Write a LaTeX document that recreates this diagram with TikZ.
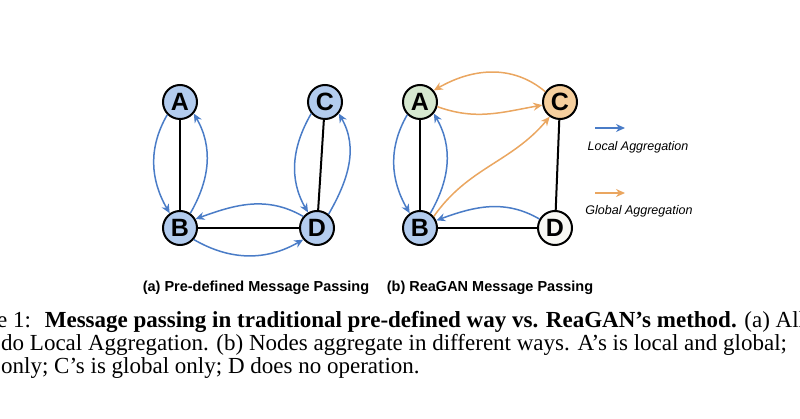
\documentclass[tikz,border=0pt]{standalone}
\usepackage{fontspec}
\setmainfont{Liberation Serif}
\setsansfont{Liberation Sans}
\usetikzlibrary{arrows.meta}
\definecolor{nblue}{HTML}{B3CCEE}
\definecolor{ngreen}{HTML}{D6E8D0}
\definecolor{norange}{HTML}{F6CF9E}
\definecolor{nwhite}{HTML}{F8F8F4}
\definecolor{ablue}{HTML}{4A7CC7}
\definecolor{aorange}{HTML}{EAA660}
\tikzset{
  x=1pt,y=-1pt,
  nd/.style={circle,draw=black,line width=2pt,minimum size=34pt,inner sep=0pt,font=\sffamily\bfseries\fontsize{25}{25}\selectfont},
  edge/.style={line width=2pt,black},
  loc/.style={-{Stealth[length=9pt,width=8pt]},ablue,line width=1.5pt},
  glob/.style={-{Stealth[length=9pt,width=8pt]},aorange,line width=1.5pt},
  sub/.style={font=\sffamily\bfseries\fontsize{14.5}{16}\selectfont},
  leg/.style={font=\sffamily\itshape\fontsize{12.5}{14}\selectfont},
  captxt/.style={anchor=west,inner sep=0pt,font=\fontsize{23}{26}\selectfont}
}
\begin{document}
\begin{tikzpicture}
\useasboundingbox (0,0) rectangle (800,419);
\clip (0,0) rectangle (800,419);
% (a)
\node[nd,fill=nblue] (A) at (180,102) {A};
\node[nd,fill=nblue] (B) at (180,228) {B};
\node[nd,fill=nblue] (C) at (325,102) {C};
\node[nd,fill=nblue] (D) at (317,228) {D};
\draw[edge] (A) -- (B);
\draw[edge] (C) -- (D);
\draw[edge] (B) -- (D);
\draw[loc] (A.225) to[out=240,in=120] (B.125);
\draw[loc] (B.55) to[out=60,in=-60] (A.-40);
\draw[loc] (C.220) to[out=240,in=120] (D.120);
\draw[loc] (D.50) to[out=60,in=-60] (C.-40);
\draw[loc] (D.140) to[out=150,in=20] (B.30);
\draw[loc] (B.-40) to[out=-30,in=-150] (D.-140);
% (b)
\node[nd,fill=ngreen] (A2) at (420,102) {A};
\node[nd,fill=nblue] (B2) at (420,228) {B};
\node[nd,fill=norange] (C2) at (560,102) {C};
\node[nd,fill=nwhite] (D2) at (555,228) {D};
\draw[edge] (A2) -- (B2);
\draw[edge] (C2) -- (D2);
\draw[edge] (B2) -- (D2);
\draw[loc] (A2.225) to[out=240,in=120] (B2.125);
\draw[loc] (B2.55) to[out=60,in=-60] (A2.-40);
\draw[loc] (D2.150) to[out=150,in=20] (B2.25);
\draw[glob] (C2.145) to[out=140,in=30] (A2.40);
\draw[glob] (A2.-15) to[out=-20,in=-170] (C2.190);
\draw[glob] (B2.40) to[out=55,in=-130] (C2.235);
% legend
\coordinate (l1) at (595,128); \coordinate (l2) at (625,128);
\draw[loc] (l1) -- (l2);
\node[leg] (lt1) at (638,147) {Local Aggregation};
\coordinate (g1) at (595,193); \coordinate (g2) at (625,193);
\draw[glob] (g1) -- (g2);
\node[leg] (lt2) at (639,211) {Global Aggregation};
% subcaptions
\node[sub] (sa) at (256,288) {(a) Pre-defined Message Passing};
\node[sub] (sb) at (490,288) {(b) ReaGAN Message Passing};
% caption
\node[captxt] (c1) at (-3,322) {e 1:\hspace{0.6em}\textbf{Message passing in traditional pre-defined way vs. ReaGAN's method.} (a) All};
\node[captxt] (c2) at (1,345) {do Local Aggregation. (b) Nodes aggregate in different ways. A's is local and global;};
\node[captxt] (c3) at (1,368) {only; C's is global only; D does no operation.};
\end{tikzpicture}
\end{document}
